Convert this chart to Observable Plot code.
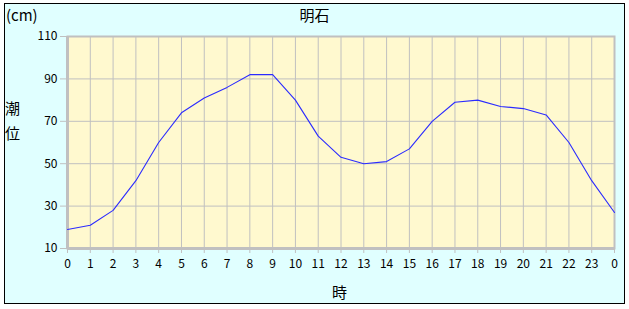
<!DOCTYPE html>
<html>
<head>
<meta charset="utf-8">
<script src="https://cdn.jsdelivr.net/npm/d3@7"></script>
<script src="https://cdn.jsdelivr.net/npm/@observablehq/plot@0.6"></script>
<style>
  html, body { margin: 0; padding: 0; background: #ffffff; }
  #wrap { position: relative; width: 629px; height: 309px; overflow: hidden; }
  #box { position: absolute; left: 4px; top: 3px; width: 619px; height: 299px; border: 1px solid #000; background: #e0ffff; }
  #chart { position: absolute; left: 0; top: 0; }
  .lbl { position: absolute; font-family: "Noto Sans CJK JP", sans-serif; color: #000; line-height: 1; }
</style>
</head>
<body>
<div id="wrap">
  <div id="box"></div>
  <div id="chart"></div>
  <div class="lbl" style="left:0;width:629px;text-align:center;top:7px;font-size:15px;">明石</div>
  <div class="lbl" style="left:6px;top:7px;font-size:15px;">(cm)</div>
  <div class="lbl" style="left:5px;top:100px;font-size:15px;">潮</div>
  <div class="lbl" style="left:5px;top:125px;font-size:15px;">位</div>
  <div class="lbl" style="left:332px;top:284px;font-size:15px;">時</div>
</div>
<script>
const hours = d3.range(0, 25);
const levels = [19, 21, 28, 42, 60, 74, 81, 86, 92, 92, 80, 63, 53, 50, 51, 57, 70, 79, 80, 77, 76, 73, 60, 42, 27];
const yTicks = [10, 30, 50, 70, 90, 110];
const data = hours.map((h, i) => ({hour: h, level: levels[i]}));

const plot = Plot.plot({
  width: 629,
  height: 309,
  marginLeft: 67,
  marginRight: 15,
  marginTop: 36,
  marginBottom: 61,
  style: {background: "transparent", fontFamily: "'Noto Sans CJK JP', sans-serif", fontSize: "12px", color: "#000"},
  x: {domain: [0, 24], ticks: hours, tickFormat: d => String(d % 24), tickSize: 5, tickPadding: 6, label: null},
  y: {domain: [10, 110], ticks: yTicks, tickSize: 7, tickPadding: 3, label: null},
  marks: [
    Plot.frame({fill: "#fff9cf", stroke: null}),
    Plot.gridX(hours, {stroke: "#c0c0c0", strokeOpacity: 1, strokeWidth: 1}),
    Plot.gridY(yTicks, {stroke: "#c0c0c0", strokeOpacity: 1, strokeWidth: 1}),
    Plot.frame({stroke: "#c0c0c0", strokeWidth: 2}),
    Plot.ruleX([0], {stroke: "#c0c0c0", strokeWidth: 3}),
    Plot.ruleY([10], {stroke: "#c0c0c0", strokeWidth: 3}),
    Plot.axisX({ticks: hours, tickFormat: d => String(d % 24), tickSize: 5, tickPadding: 6, stroke: "#c0c0c0", label: null}),
    Plot.axisY({ticks: yTicks, tickSize: 7, tickPadding: 3, stroke: "#c0c0c0", label: null}),
    Plot.line(data, {x: "hour", y: "level", stroke: "#2b2bff", strokeWidth: 1.1})
  ]
});
document.getElementById("chart").appendChild(plot);
</script>
</body>
</html>
